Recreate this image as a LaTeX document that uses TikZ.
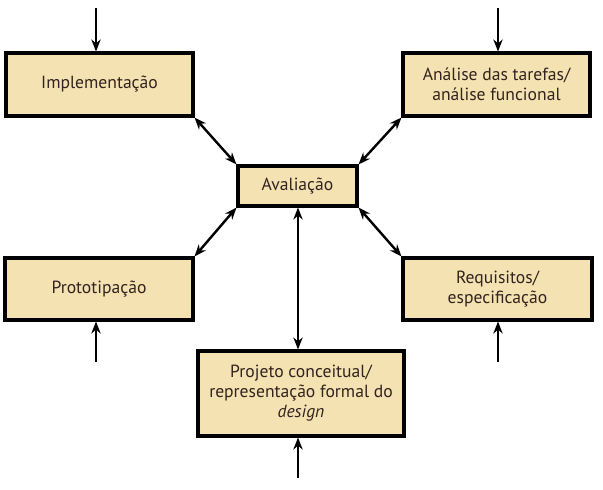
\documentclass[tikz,border=0pt]{standalone}
\usepackage{fontspec}
\setmainfont{PT Sans}
\usetikzlibrary{arrows.meta}
\definecolor{boxfill}{RGB}{245,226,178}
\definecolor{txt}{RGB}{50,35,30}
\begin{document}
\begin{tikzpicture}[x=0.75pt,y=-0.75pt,
  box/.style={draw=black,line width=2.3pt,fill=boxfill,text=txt,align=center,font=\fontsize{13.2}{15}\selectfont,inner sep=0pt},
  conn/.style={line width=1.8pt,-{Stealth[length=9pt,width=7pt]}},
  dconn/.style={line width=1.8pt,{Stealth[length=9pt,width=7pt]}-{Stealth[length=9pt,width=7pt]}}]
\useasboundingbox (0,0) rectangle (603,489);
\node[box,minimum width=187*0.75pt,minimum height=63*0.75pt] (impl) at (99.5,84.5) {Implementação};
\node[box,minimum width=187*0.75pt,minimum height=63*0.75pt] (anal) at (496.5,84.5) {Análise das tarefas/\\análise funcional};
\node[box,minimum width=119*0.75pt,minimum height=40*0.75pt] (aval) at (297.5,186) {Avaliação};
\node[box,minimum width=188*0.75pt,minimum height=62*0.75pt] (prot) at (99,289) {Prototipação};
\node[box,minimum width=189*0.75pt,minimum height=62*0.75pt] (req) at (497.5,289) {Requisitos/\\especificação};
\node[box,minimum width=206*0.75pt,minimum height=85*0.75pt] (proj) at (301,393.5) {Projeto conceitual/\\representação formal do\\\textit{design}};
\coordinate (ti) at (96,8);
\coordinate (ta) at (498,8);
\coordinate (bp) at (96,362);
\coordinate (br) at (498,362);
\coordinate (bj) at (298,478);
\draw[conn] (ti) -- (ti |- impl.north);
\draw[conn] (ta) -- (ta |- anal.north);
\draw[conn] (bp) -- (bp |- prot.south);
\draw[conn] (br) -- (br |- req.south);
\draw[conn] (bj) -- (bj |- proj.south);
\draw[dconn] (impl.south east) -- (aval.north west);
\draw[dconn] (anal.south west) -- (aval.north east);
\draw[dconn] (aval.south west) -- (prot.north east);
\draw[dconn] (aval.south east) -- (req.north west);
\draw[dconn] (aval.south -| bj) -- (proj.north -| bj);
\end{tikzpicture}
\end{document}
